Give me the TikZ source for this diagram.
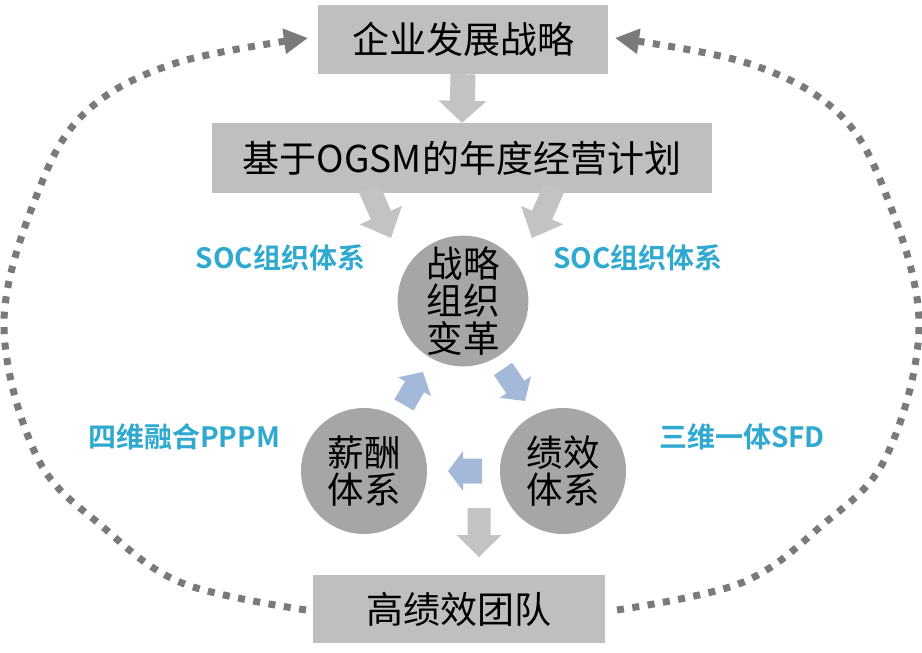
\documentclass[tikz,border=0pt]{standalone}
\usepackage{fontspec}
\newfontfamily\cjk{Noto Sans CJK SC}
\newfontfamily\cjkb{Noto Sans CJK SC Bold}
\usetikzlibrary{calc,arrows.meta}
\definecolor{boxgray}{HTML}{BFBFBF}
\definecolor{circgray}{HTML}{A6A6A6}
\definecolor{arrgray}{HTML}{C3C3C3}
\definecolor{arrblue}{HTML}{A4B8DA}
\definecolor{lblblue}{HTML}{2FA9CF}
\definecolor{dotgray}{HTML}{7A7A7A}
\newcommand{\blockarrow}[6]{%
  \coordinate (hb) at ($(#2)!#5!(#1)$);
  \fill[#6] ($(#1)!#3!90:(#2)$) -- ($(hb)!#3!-90:(#1)$) -- ($(hb)!#4!-90:(#1)$) -- (#2)
    -- ($(hb)!#4!90:(#1)$) -- ($(hb)!#3!90:(#1)$) -- ($(#1)!#3!-90:(#2)$) -- cycle;}
\tikzset{
  box/.style={rectangle, fill=boxgray, inner sep=0pt, font=\cjk\fontsize{37}{40}\selectfont},
  circ/.style={circle, fill=circgray, inner sep=0pt, align=center, font=\cjk\fontsize{36.5}{37.5}\selectfont},
  lbl/.style={text=lblblue, inner sep=0pt, font=\cjkb\fontsize{28}{30}\selectfont},
  dotline/.style={draw=dotgray, line width=7pt, dash pattern=on 7pt off 8.5pt,
    -{Triangle[length=24pt,width=24pt]}}
}
\begin{document}
\begin{tikzpicture}[x=1pt,y=-1pt]
\useasboundingbox (0,0) rectangle (922,653);
% boxes
\node[box, minimum width=290pt, minimum height=69pt] (top) at (463,39.5) {企业发展战略};
\node[box, minimum width=500pt, minimum height=70pt] (plan) at (462,158) {基于OGSM的年度经营计划};
\node[box, minimum width=292pt, minimum height=68pt] (team) at (459,609) {高绩效团队};
% circles
\node[circ, minimum size=124pt] (org) at (463,301) {战略\\组织\\变革};
\node[circ, minimum size=126pt] (pay) at (364,471) {薪酬\\体系};
\node[circ, minimum size=126pt] (perf) at (563,471) {绩效\\体系};
% labels
\node[lbl] (soc1) at (280.5,258) {SOC组织体系};
\node[lbl] (soc2) at (638,258) {SOC组织体系};
\node[lbl] (pppm) at (184,437) {四维融合PPPM};
\node[lbl] (sfd) at (742,437) {三维一体SFD};
% block arrows
\blockarrow{top.south}{plan.north}{12.5pt}{24pt}{22pt}{arrgray}
\coordinate (d1a) at (369,188); \coordinate (d1b) at (391,238);
\blockarrow{d1a}{d1b}{11pt}{23pt}{25pt}{arrgray}
\coordinate (d2a) at (554,188); \coordinate (d2b) at (532,238);
\blockarrow{d2a}{d2b}{11pt}{23pt}{25pt}{arrgray}
\coordinate (b1a) at (404,405); \coordinate (b1b) at (423,372);
\blockarrow{b1a}{b1b}{11pt}{19pt}{17pt}{arrblue}
\coordinate (b2a) at (503,369); \coordinate (b2b) at (525,401);
\blockarrow{b2a}{b2b}{11pt}{19pt}{17pt}{arrblue}
\coordinate (b3a) at (482,471); \coordinate (b3b) at (448,471);
\blockarrow{b3a}{b3b}{12.5pt}{20pt}{15pt}{arrblue}
\coordinate (g1a) at (479,508); \coordinate (g1b) at (479,557);
\blockarrow{g1a}{g1b}{11.5pt}{22.5pt}{22pt}{arrgray}
% dotted loop
\draw[dotline] plot[smooth, tension=0.6] coordinates {(306,610) (182,583) (103,527) (37,457) (4,322) (40,187) (88,110) (176,63) (308,38)};
\draw[dotline] plot[smooth, tension=0.6] coordinates {(617,610) (741,583) (820,527) (886,457) (919,322) (883,187) (835,110) (747,63) (615,38)};
\end{tikzpicture}
\end{document}
